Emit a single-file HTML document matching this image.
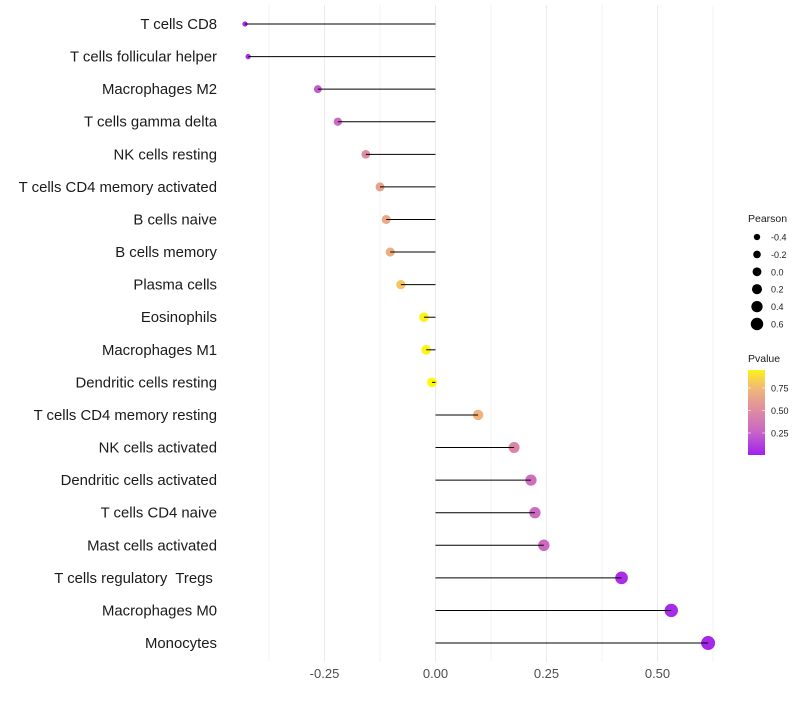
<!DOCTYPE html>
<html><head><meta charset="utf-8"><style>
body{margin:0;background:#fff;font-family:"Liberation Sans",sans-serif}
text{white-space:pre}
</style></head><body>
<svg id="chart" width="800" height="700"></svg>
<script>
const categories=["T cells CD8","T cells follicular helper","Macrophages M2","T cells gamma delta","NK cells resting","T cells CD4 memory activated","B cells naive","B cells memory","Plasma cells","Eosinophils","Macrophages M1","Dendritic cells resting","T cells CD4 memory resting","NK cells activated","Dendritic cells activated","T cells CD4 naive","Mast cells activated","T cells regulatory  Tregs ","Macrophages M0","Monocytes"];
const pearson=[-0.429,-0.422,-0.265,-0.22,-0.157,-0.125,-0.111,-0.102,-0.078,-0.026,-0.021,-0.008,0.096,0.177,0.215,0.224,0.244,0.419,0.531,0.614];
const pvalues=[0.04,0.05,0.22,0.3,0.5,0.62,0.66,0.7,0.8,0.95,0.96,0.98,0.72,0.45,0.32,0.3,0.28,0.05,0.04,0.03];
const xTicks=[-0.25,0,0.25,0.5];
const xTickLabels=["-0.25","0.00","0.25","0.50"];
const sizeLegend=[-0.4,-0.2,0.0,0.2,0.4,0.6];
const sizeLegendLabels=["-0.4","-0.2","0.0","0.2","0.4","0.6"];
const colorTicks=[0.25,0.5,0.75];
const colorTickLabels=["0.25","0.50","0.75"];

const NS="http://www.w3.org/2000/svg",svg=document.getElementById('chart');
function mk(t,a,p){const e=document.createElementNS(NS,t);for(const k in a)e.setAttribute(k,a[k]);(p||svg).appendChild(e);return e;}
const x=v=>435.5+v*444;
const y=i=>24+i*32.58;
const r=v=>Math.max(2.2,4.9+3.4*v-(v<-0.4?0.8:0));
const stops=[[0,[160,32,240]],[0.25,[200,100,200]],[0.5,[222,140,160]],[0.75,[242,184,120]],[1,[255,255,0]]];
function col(p){for(let i=1;i<stops.length;i++){if(p<=stops[i][0]){const a=stops[i-1],b=stops[i],t=(p-a[0])/(b[0]-a[0]);return 'rgb('+a[1].map((c,j)=>Math.round(c+(b[1][j]-c)*t)).join(',')+')';}}return 'rgb(255,255,0)';}
for(let v=-0.375;v<=0.63;v+=0.125){const g=mk('line',{x1:x(v),x2:x(v),y1:5,y2:662,stroke:'#ebebeb','stroke-width':Math.abs((v*8)%2)>0.5?0.6:1.1});

}
xTicks.forEach((v,i)=>{const t=mk('text',{x:x(v),y:678,'text-anchor':'middle','font-size':13,fill:'#4d4d4d'});t.textContent=xTickLabels[i];

});
categories.forEach((c,i)=>{
const t=mk('text',{x:217,y:y(i)+5,'text-anchor':'end','font-size':14.9,fill:'#1a1a1a'});t.textContent=c;


const d=mk('circle',{cx:x(pearson[i]),cy:y(i),r:r(pearson[i]),fill:col(pvalues[i])});


const l=mk('line',{x1:x(0),x2:x(pearson[i]),y1:y(i),y2:y(i),stroke:'#000','stroke-width':1});


});
const lt=mk('text',{x:748,y:222,'font-size':10.5,fill:'#1a1a1a'});lt.textContent='Pearson';


sizeLegend.forEach((v,i)=>{const cy=237+i*17.4;
const c=mk('circle',{cx:757,cy:cy,r:r(v)*0.9,fill:'#000'});


const t=mk('text',{x:771,y:cy+3.5,'font-size':9,fill:'#1a1a1a'});t.textContent=sizeLegendLabels[i];

});
const ct=mk('text',{x:748,y:362,'font-size':10.5,fill:'#1a1a1a'});ct.textContent='Pvalue';


const defs=mk('defs',{});const gr=mk('linearGradient',{id:'pg',x1:0,y1:1,x2:0,y2:0},defs);
for(let k=0;k<=10;k++){const p=k/10*0.95;mk('stop',{offset:k/10,'stop-color':col(p)},gr);}
const bar=mk('rect',{x:748,y:370,width:17,height:85,fill:'url(#pg)'});


colorTicks.forEach((v,i)=>{const cy=455.5-v*90;
mk('line',{x1:748,x2:751,y1:cy,y2:cy,stroke:'#fff','stroke-width':0.6});mk('line',{x1:762,x2:765,y1:cy,y2:cy,stroke:'#fff','stroke-width':0.6});
const t=mk('text',{x:771,y:cy+3.5,'font-size':9,fill:'#1a1a1a'});t.textContent=colorTickLabels[i];

});
</script>
</body></html>
